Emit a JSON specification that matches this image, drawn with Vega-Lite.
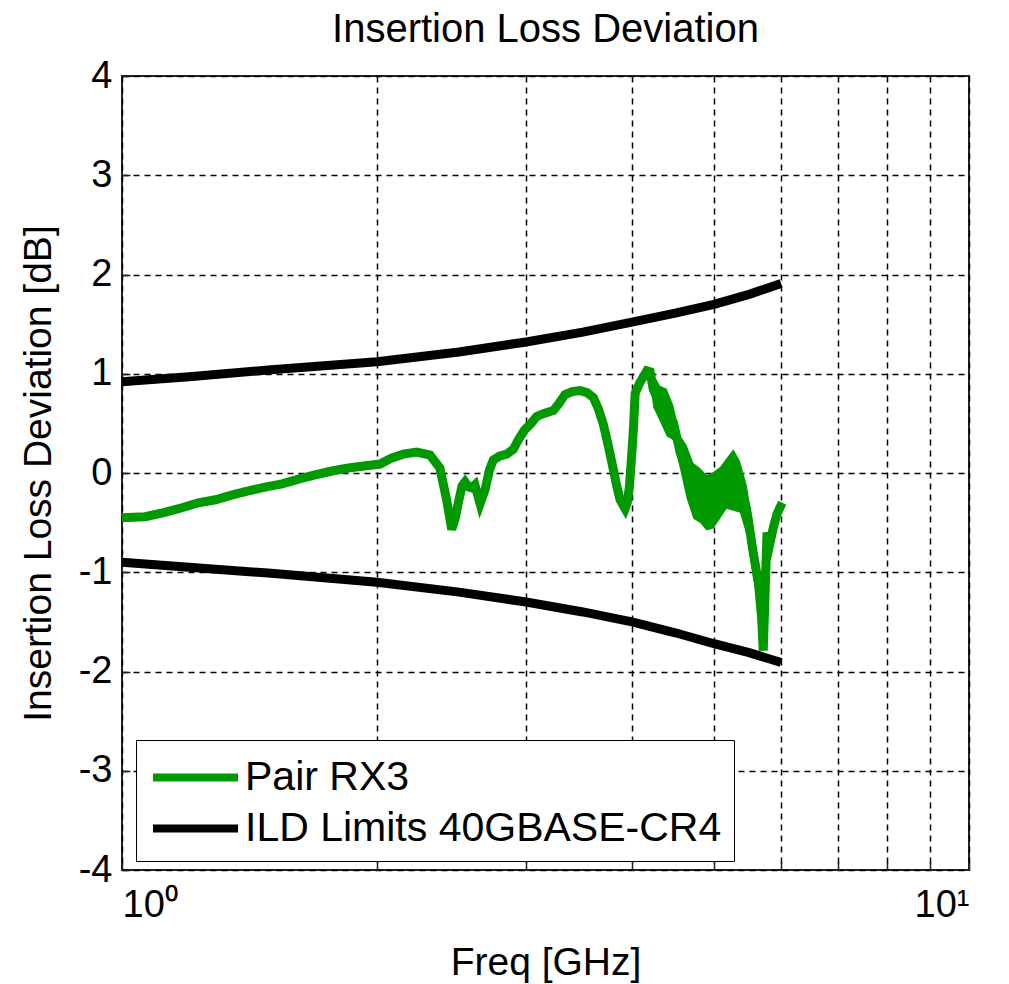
{
  "$schema": "https://vega.github.io/schema/vega-lite/v6.json",
  "width": 847,
  "height": 794,
  "autosize": {"type": "none"},
  "padding": {"left": 122, "top": 76, "right": 40, "bottom": 114},
  "background": "white",
  "title": {"text": "Insertion Loss Deviation", "font": "Liberation Sans", "fontSize": 40, "fontWeight": "normal", "color": "black", "offset": 7, "anchor": "middle"},
  "datasets": {
    "limits": [
      {"f": 1.0, "v": 0.92, "s": "ILD Limits 40GBASE-CR4", "part": "upper"},
      {"f": 1.2, "v": 0.97, "s": "ILD Limits 40GBASE-CR4", "part": "upper"},
      {"f": 1.5, "v": 1.04, "s": "ILD Limits 40GBASE-CR4", "part": "upper"},
      {"f": 2.0, "v": 1.12, "s": "ILD Limits 40GBASE-CR4", "part": "upper"},
      {"f": 2.5, "v": 1.22, "s": "ILD Limits 40GBASE-CR4", "part": "upper"},
      {"f": 3.0, "v": 1.32, "s": "ILD Limits 40GBASE-CR4", "part": "upper"},
      {"f": 3.5, "v": 1.42, "s": "ILD Limits 40GBASE-CR4", "part": "upper"},
      {"f": 4.0, "v": 1.52, "s": "ILD Limits 40GBASE-CR4", "part": "upper"},
      {"f": 4.5, "v": 1.61, "s": "ILD Limits 40GBASE-CR4", "part": "upper"},
      {"f": 5.0, "v": 1.70, "s": "ILD Limits 40GBASE-CR4", "part": "upper"},
      {"f": 5.5, "v": 1.80, "s": "ILD Limits 40GBASE-CR4", "part": "upper"},
      {"f": 6.0, "v": 1.91, "s": "ILD Limits 40GBASE-CR4", "part": "upper"},
      {"f": 1.0, "v": -0.90, "s": "ILD Limits 40GBASE-CR4", "part": "lower"},
      {"f": 1.2, "v": -0.95, "s": "ILD Limits 40GBASE-CR4", "part": "lower"},
      {"f": 1.5, "v": -1.01, "s": "ILD Limits 40GBASE-CR4", "part": "lower"},
      {"f": 2.0, "v": -1.10, "s": "ILD Limits 40GBASE-CR4", "part": "lower"},
      {"f": 2.5, "v": -1.20, "s": "ILD Limits 40GBASE-CR4", "part": "lower"},
      {"f": 3.0, "v": -1.30, "s": "ILD Limits 40GBASE-CR4", "part": "lower"},
      {"f": 3.5, "v": -1.40, "s": "ILD Limits 40GBASE-CR4", "part": "lower"},
      {"f": 4.0, "v": -1.50, "s": "ILD Limits 40GBASE-CR4", "part": "lower"},
      {"f": 4.5, "v": -1.61, "s": "ILD Limits 40GBASE-CR4", "part": "lower"},
      {"f": 5.0, "v": -1.72, "s": "ILD Limits 40GBASE-CR4", "part": "lower"},
      {"f": 5.5, "v": -1.81, "s": "ILD Limits 40GBASE-CR4", "part": "lower"},
      {"f": 6.0, "v": -1.91, "s": "ILD Limits 40GBASE-CR4", "part": "lower"}
    ],
    "band": [
      {"f": 4.20, "lo": 0.92, "hi": 1.02},
      {"f": 4.239, "lo": 0.66, "hi": 1.00},
      {"f": 4.317, "lo": 0.52, "hi": 0.88},
      {"f": 4.396, "lo": 0.37, "hi": 0.85},
      {"f": 4.477, "lo": 0.33, "hi": 0.68},
      {"f": 4.559, "lo": 0.04, "hi": 0.38},
      {"f": 4.642, "lo": -0.26, "hi": 0.28},
      {"f": 4.727, "lo": -0.46, "hi": 0.10},
      {"f": 4.813, "lo": -0.50, "hi": 0.05},
      {"f": 4.901, "lo": -0.58, "hi": -0.02},
      {"f": 4.991, "lo": -0.56, "hi": 0.01},
      {"f": 5.082, "lo": -0.46, "hi": 0.06},
      {"f": 5.175, "lo": -0.36, "hi": 0.15},
      {"f": 5.270, "lo": -0.38, "hi": 0.24},
      {"f": 5.365, "lo": -0.40, "hi": 0.12},
      {"f": 5.464, "lo": -0.63, "hi": -0.12},
      {"f": 5.564, "lo": -1.08, "hi": -0.52},
      {"f": 5.60, "lo": -1.20, "hi": -0.72},
      {"f": 5.64, "lo": -1.35, "hi": -0.90}
    ],
    "rx": [
      {"f": 1.0, "v": -0.45}, {"f": 1.065, "v": -0.44}, {"f": 1.12, "v": -0.40}, {"f": 1.177, "v": -0.35},
      {"f": 1.23, "v": -0.30}, {"f": 1.289, "v": -0.27}, {"f": 1.35, "v": -0.22}, {"f": 1.41, "v": -0.18},
      {"f": 1.48, "v": -0.14}, {"f": 1.545, "v": -0.11}, {"f": 1.62, "v": -0.06}, {"f": 1.69, "v": -0.02},
      {"f": 1.77, "v": 0.02}, {"f": 1.85, "v": 0.05}, {"f": 1.93, "v": 0.07}, {"f": 2.017, "v": 0.09},
      {"f": 2.08, "v": 0.15}, {"f": 2.148, "v": 0.19}, {"f": 2.228, "v": 0.21}, {"f": 2.31, "v": 0.18},
      {"f": 2.373, "v": 0.05}, {"f": 2.417, "v": -0.27}, {"f": 2.451, "v": -0.57}, {"f": 2.475, "v": -0.45},
      {"f": 2.495, "v": -0.30}, {"f": 2.52, "v": -0.13}, {"f": 2.541, "v": -0.09}, {"f": 2.565, "v": -0.14},
      {"f": 2.587, "v": -0.15}, {"f": 2.61, "v": -0.12}, {"f": 2.647, "v": -0.31}, {"f": 2.683, "v": -0.17},
      {"f": 2.715, "v": 0.03}, {"f": 2.744, "v": 0.13}, {"f": 2.79, "v": 0.17}, {"f": 2.846, "v": 0.19},
      {"f": 2.898, "v": 0.24}, {"f": 2.94, "v": 0.34}, {"f": 2.985, "v": 0.43}, {"f": 3.04, "v": 0.50},
      {"f": 3.088, "v": 0.57}, {"f": 3.15, "v": 0.60}, {"f": 3.231, "v": 0.63}, {"f": 3.28, "v": 0.70},
      {"f": 3.334, "v": 0.79}, {"f": 3.40, "v": 0.82}, {"f": 3.474, "v": 0.83}, {"f": 3.54, "v": 0.81},
      {"f": 3.602, "v": 0.76}, {"f": 3.65, "v": 0.65}, {"f": 3.701, "v": 0.49}, {"f": 3.75, "v": 0.28},
      {"f": 3.804, "v": 0.03}, {"f": 3.84, "v": -0.14}, {"f": 3.873, "v": -0.27}, {"f": 3.926, "v": -0.36},
      {"f": 3.95, "v": -0.30}, {"f": 3.972, "v": -0.14}, {"f": 3.995, "v": 0.15}, {"f": 4.017, "v": 0.46},
      {"f": 4.035, "v": 0.80}, {"f": 4.08, "v": 0.90}, {"f": 4.127, "v": 0.97}, {"f": 4.165, "v": 1.03},
      {"f": 4.202, "v": 1.02}, {"f": 4.239, "v": 0.84}, {"f": 4.317, "v": 0.70}, {"f": 4.396, "v": 0.62},
      {"f": 4.477, "v": 0.51}, {"f": 4.559, "v": 0.21}, {"f": 4.642, "v": 0.01}, {"f": 4.727, "v": -0.18},
      {"f": 4.813, "v": -0.22}, {"f": 4.901, "v": -0.30}, {"f": 4.991, "v": -0.27}, {"f": 5.082, "v": -0.20},
      {"f": 5.175, "v": -0.10}, {"f": 5.270, "v": -0.07}, {"f": 5.365, "v": -0.13}, {"f": 5.464, "v": -0.37},
      {"f": 5.564, "v": -0.81}, {"f": 5.640, "v": -1.10}, {"f": 5.690, "v": -1.45}, {"f": 5.716, "v": -1.79},
      {"f": 5.745, "v": -1.20}, {"f": 5.775, "v": -0.60}, {"f": 5.823, "v": -0.70}, {"f": 5.875, "v": -0.55},
      {"f": 5.929, "v": -0.42}, {"f": 5.98, "v": -0.35}, {"f": 6.02, "v": -0.30}
    ]
  },
  "encoding": {
    "x": {
      "field": "f", "type": "quantitative",
      "scale": {"type": "log", "domain": [1, 10], "nice": false},
      "axis": {
        "title": "Freq [GHz]",
        "values": [1, 2, 3, 4, 5, 6, 7, 8, 9, 10],
        "labelExpr": "datum.value == 1 ? '10⁰' : (datum.value == 10 ? '10¹' : '')",
        "labelPadding": 24,
        "titlePadding": 19
      }
    },
    "y": {
      "field": "v", "type": "quantitative",
      "scale": {"domain": [-4, 4], "nice": false, "zero": false},
      "axis": {
        "title": "Insertion Loss Deviation [dB]",
        "values": [-4, -3, -2, -1, 0, 1, 2, 3, 4],
        "labelExpr": "'' + datum.value",
        "labelPadding": 18,
        "titlePadding": 20
      }
    }
  },
  "layer": [
    {
      "data": {"name": "limits"},
      "mark": {"type": "line", "strokeWidth": 9},
      "encoding": {
        "color": {"field": "s", "type": "nominal", "scale": {"domain": ["Pair RX3", "ILD Limits 40GBASE-CR4"], "range": ["#009900", "#000000"]}, "legend": {"title": null}},
        "detail": {"field": "part"}
      }
    },
    {
      "data": {"name": "band"},
      "mark": {"type": "area", "color": "#009900", "opacity": 1},
      "encoding": {
        "y": {"field": "lo", "type": "quantitative"},
        "y2": {"field": "hi"}
      }
    },
    {
      "data": {"name": "rx"},
      "transform": [{"calculate": "'Pair RX3'", "as": "s"}],
      "mark": {"type": "line", "strokeWidth": 9},
      "encoding": {
        "color": {"field": "s", "type": "nominal"}
      }
    }
  ],
  "config": {
    "font": "Liberation Sans",
    "view": {"stroke": "#222222", "strokeWidth": 2},
    "axis": {
      "labelFont": "Liberation Sans", "labelFontSize": 38, "labelColor": "black",
      "titleFont": "Liberation Sans", "titleFontSize": 39, "titleFontWeight": "normal", "titleColor": "black",
      "domain": false,
      "ticks": true, "tickSize": -8, "tickColor": "#222222", "tickWidth": 1.5,
      "grid": true, "gridColor": "black", "gridDash": [6, 5], "gridWidth": 1.5, "gridOpacity": 1
    },
    "legend": {
      "orient": "none", "legendX": 14, "legendY": 664,
      "direction": "vertical",
      "strokeColor": "black", "fillColor": "white", "padding": 12,
      "labelFont": "Liberation Sans", "labelFontSize": 41, "labelColor": "black", "labelLimit": 700,
      "symbolType": "M-2,0H2", "symbolSize": 1806, "symbolStrokeWidth": 8, "symbolOffset": 22,
      "labelOffset": 24, "rowPadding": 5
    }
  }
}
